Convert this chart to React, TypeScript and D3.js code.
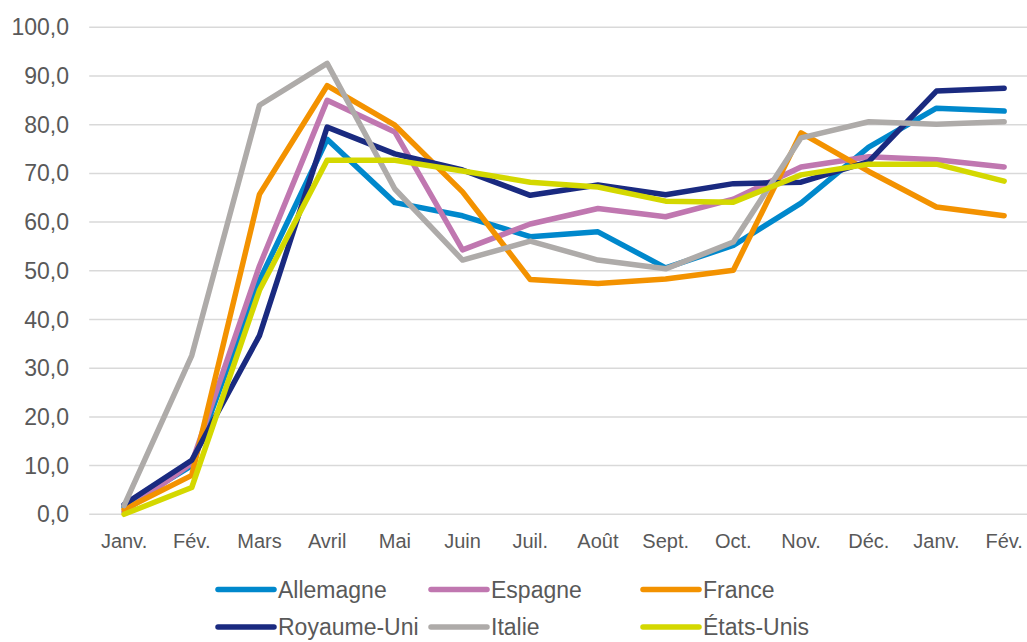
import React from "react";
import * as d3 from "d3";

const categories = ["Janv.", "Fév.", "Mars", "Avril", "Mai", "Juin", "Juil.", "Août", "Sept.", "Oct.", "Nov.", "Déc.", "Janv.", "Fév."];

const allemagne = [1.5, 10, 48, 77, 64, 61.3, 57, 58, 50.6, 55.2, 63.9, 75.4, 83.4, 82.8];
const espagne = [0.5, 10.5, 51, 85, 78.5, 54.3, 59.6, 62.8, 61.1, 64.7, 71.3, 73.4, 72.8, 71.3];
const france = [1, 8, 65.7, 88, 79.9, 66.2, 48.2, 47.4, 48.3, 50.1, 78.3, 70.4, 63.1, 61.3];
const royaumeUni = [2, 11.1, 36.7, 79.5, 74, 70.7, 65.5, 67.6, 65.6, 67.9, 68.2, 72.4, 86.9, 87.5];
const italie = [1.8, 32.6, 84, 92.6, 66.8, 52.2, 56.1, 52.2, 50.4, 55.9, 77.3, 80.6, 80.1, 80.6];
const etatsUnis = [0, 5.5, 46, 72.7, 72.7, 70.5, 68.2, 67.2, 64.3, 64.1, 69.7, 71.9, 71.9, 68.4];

const seriesNames = ["Allemagne", "Espagne", "France", "Royaume-Uni", "Italie", "États-Unis"];
const seriesValues = [allemagne, espagne, france, royaumeUni, italie, etatsUnis];
const seriesColors = ["#0088CC", "#C077B0", "#F39200", "#1A2A80", "#AEABA9", "#D4D800"];

const yTicks = [0, 10, 20, 30, 40, 50, 60, 70, 80, 90, 100];

export default function App() {
  const W = 1027;
  const H = 642;
  const plotLeft = 90.2;
  const plotRight = plotLeft + 14 * 67.7;
  const x = d3
    .scaleBand<number>()
    .domain(categories.map((_, i) => i))
    .range([plotLeft, plotRight]);
  const y = d3.scaleLinear().domain([0, 100]).range([514.3, 27.3]);
  const line = d3
    .line<number>()
    .x((_, i) => (x(i) as number) + x.bandwidth() / 2)
    .y((v) => y(v));

  const font = "'Liberation Sans', Arial, sans-serif";
  const textColor = "#595959";

  const legendCols = [218, 431, 643];
  const legendRows = [589.5, 627];

  return (
    <svg
      width={W}
      height={H}
      style={{ position: "fixed", left: 0, top: 0, background: "#fff" }}
      fontFamily={font}
    >
      <rect x={0} y={0} width={W} height={H} fill="#fff" />
      {yTicks.map((t) => (
        <g key={t}>
          <line x1={plotLeft - 1} x2={W + 20} y1={y(t)} y2={y(t)} stroke="#D9D9D9" strokeWidth={1.5} />
          <text x={69} y={y(t)} dy="0.35em" textAnchor="end" fontSize={23} fill={textColor}>
            {d3.format(".1f")(t).replace(".", ",")}
          </text>
        </g>
      ))}
      {categories.map((c, i) => (
        <text
          key={i}
          x={(x(i) as number) + x.bandwidth() / 2}
          y={547.5}
          textAnchor="middle"
          fontSize={20}
          fill={textColor}
        >
          {c}
        </text>
      ))}
      {seriesValues.map((vals, si) => (
        <path
          key={si}
          d={line(vals) as string}
          fill="none"
          stroke={seriesColors[si]}
          strokeWidth={5.5}
          strokeLinecap="round"
          strokeLinejoin="round"
        />
      ))}
      {seriesNames.map((name, si) => {
        const col = si % 3;
        const row = Math.floor(si / 3);
        const lx = legendCols[col];
        const ly = legendRows[row];
        return (
          <g key={name}>
            <line
              x1={lx}
              x2={lx + 56}
              y1={ly}
              y2={ly}
              stroke={seriesColors[si]}
              strokeWidth={5.5}
              strokeLinecap="round"
            />
            <text x={lx + 60} y={ly} dy="0.35em" fontSize={23} fill={textColor}>
              {name}
            </text>
          </g>
        );
      })}
    </svg>
  );
}
